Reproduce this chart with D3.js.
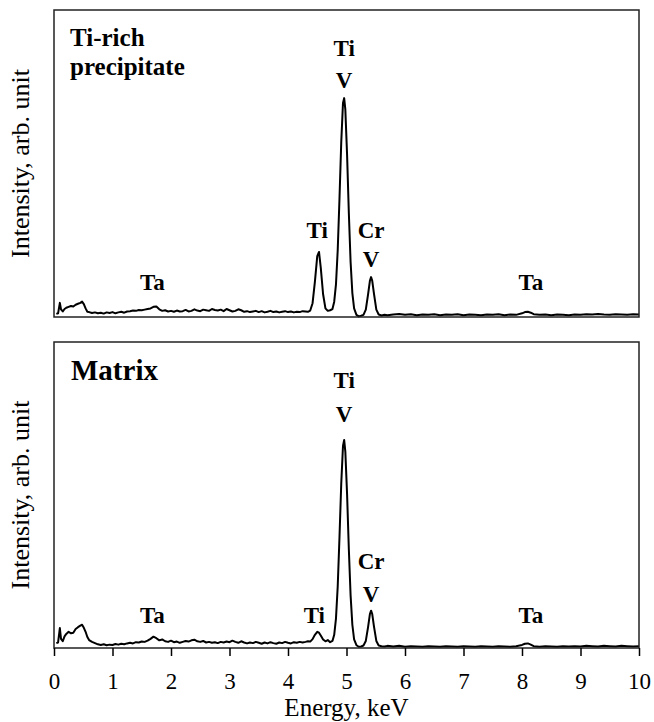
<!DOCTYPE html>
<html>
<head>
<meta charset="utf-8">
<script src="https://cdn.jsdelivr.net/npm/d3@7/dist/d3.min.js"></script>
<style>
  html, body { margin: 0; padding: 0; background: #fff; }
  svg { display: block; }
  text { font-family: "Liberation Serif", "Times New Roman", serif; fill: #000; }
</style>
</head>
<body>
<svg id="chart" width="654" height="722"></svg>
<script>
// Energy axis (keV)
const energy = [
  0.04, 0.07, 0.10, 0.12, 0.15, 0.18, 0.21, 0.25, 0.29, 0.33,
  0.37, 0.41, 0.45, 0.48, 0.51, 0.54, 0.57, 0.60, 0.65, 0.70,
  0.75, 0.80, 0.85, 0.90, 0.95, 1.00, 1.05, 1.10, 1.15, 1.20,
  1.25, 1.30, 1.35, 1.40, 1.45, 1.50, 1.55, 1.60, 1.65, 1.70,
  1.75, 1.80, 1.85, 1.90, 1.95, 2.00, 2.05, 2.10, 2.15, 2.20,
  2.25, 2.30, 2.35, 2.40, 2.45, 2.50, 2.55, 2.60, 2.65, 2.70,
  2.75, 2.80, 2.85, 2.90, 2.95, 3.00, 3.05, 3.10, 3.15, 3.20,
  3.25, 3.30, 3.35, 3.40, 3.45, 3.50, 3.55, 3.60, 3.65, 3.70,
  3.75, 3.80, 3.85, 3.90, 3.95, 4.00, 4.05, 4.10, 4.15, 4.20,
  4.25, 4.30, 4.34, 4.38, 4.42, 4.46, 4.50, 4.53, 4.56, 4.60,
  4.64, 4.68, 4.72, 4.76, 4.79, 4.82, 4.85, 4.88, 4.91, 4.94,
  4.96, 4.98, 5.01, 5.04, 5.07, 5.10, 5.13, 5.17, 5.21, 5.25,
  5.29, 5.33, 5.37, 5.40, 5.42, 5.44, 5.47, 5.51, 5.55, 5.60,
  5.65, 5.70, 5.80, 5.90, 6.00, 6.10, 6.20, 6.30, 6.40, 6.50,
  6.60, 6.70, 6.80, 6.90, 7.00, 7.10, 7.20, 7.30, 7.40, 7.50,
  7.60, 7.70, 7.80, 7.90, 8.00, 8.05, 8.10, 8.15, 8.20, 8.30,
  8.40, 8.50, 8.60, 8.70, 8.80, 8.90, 9.00, 9.10, 9.20, 9.30,
  9.40, 9.50, 9.60, 9.70, 9.80, 9.90, 10.00
];

// Intensity (arb. unit) - Ti-rich precipitate
const precipitate = [
  1.0, 1.2, 4.6, 2.5, 1.8, 2.6, 3.0, 3.3, 3.6, 3.4,
  4.0, 4.3, 4.6, 5.0, 4.2, 2.8, 1.7, 1.6, 1.3, 1.5,
  1.2, 1.4, 1.1, 1.5, 1.3, 1.6, 1.2, 1.5, 1.7, 1.4,
  1.8, 1.9, 2.1, 2.0, 2.3, 2.2, 2.4, 2.6, 2.8, 3.3,
  3.4, 2.5, 2.0, 2.2, 1.8, 2.0, 1.7, 2.1, 1.8, 1.9,
  2.3, 1.8, 2.0, 2.5, 2.1, 1.9, 2.4, 2.2, 2.0, 2.6,
  2.3, 2.1, 2.4, 1.9, 2.6, 2.2, 1.8, 2.0, 2.5, 2.2,
  1.7, 1.9, 1.6, 1.8, 2.0, 1.6, 1.9, 1.5, 1.7, 2.0,
  1.6, 1.8, 1.5, 1.7, 1.9, 1.6, 1.8, 1.5, 1.7, 1.6,
  1.9, 1.8, 1.7, 2.1, 4.5, 11.5, 19.8, 21.2, 16.1, 7.4,
  2.8, 2.0, 2.2, 2.6, 5.0, 10.6, 21.8, 38.5, 56.8, 69.7,
  71.3, 67.6, 52.8, 33.9, 17.9, 7.8, 2.8, 0.7, 0.2, 0.4,
  0.7, 2.4, 7.5, 11.8, 13.0, 11.8, 7.5, 2.4, 0.8, 0.5,
  0.7, 0.6, 0.8, 1.0, 0.7, 0.9, 0.6, 0.8, 0.7, 0.9,
  0.6, 0.8, 0.7, 0.9, 0.6, 0.8, 0.7, 0.6, 0.8, 0.7,
  0.9, 0.6, 0.8, 0.7, 1.2, 1.6, 1.7, 1.4, 0.9, 0.7,
  0.8, 0.6, 0.8, 0.7, 0.6, 0.8, 0.7, 0.9, 0.8, 1.0,
  0.8, 0.7, 0.9, 0.8, 0.7, 0.9, 0.8
];

// Intensity (arb. unit) - Matrix
const matrix = [
  1.6, 1.8, 6.5, 3.0, 2.2, 3.8, 4.6, 5.3, 4.8, 5.0,
  6.2, 6.8, 7.3, 7.6, 6.6, 5.3, 3.6, 2.6, 2.0, 1.6,
  1.2, 1.0, 1.2, 0.9, 1.1, 1.0, 1.3, 1.1, 1.4, 1.2,
  1.5, 1.7, 1.5, 1.9, 1.8, 2.1, 2.0, 2.4, 3.0, 3.7,
  3.2, 2.5, 2.8, 2.2, 2.0, 2.4, 1.9, 2.1, 1.7, 2.0,
  2.3, 2.1, 2.5, 2.7, 2.2, 2.0, 2.3, 1.8, 2.0, 1.7,
  1.9, 1.6, 2.0, 1.8, 2.1, 1.9, 2.4, 2.0, 1.7, 2.2,
  1.8, 1.5, 1.8, 1.6, 2.0, 1.7, 1.4, 1.8, 1.5, 1.9,
  1.6, 1.4, 1.8, 1.6, 2.0, 1.7, 1.5, 1.9, 1.7, 2.0,
  1.8, 2.0, 2.2, 2.1, 2.9, 4.3, 5.3, 5.0, 4.1, 2.8,
  2.2, 2.6, 1.9, 2.3, 4.3, 9.6, 20.2, 36.2, 53.6, 66.0,
  68.0, 64.2, 50.2, 32.3, 17.2, 7.6, 2.8, 0.9, 0.4, 0.5,
  0.8, 2.3, 7.0, 11.1, 12.2, 11.1, 7.0, 2.3, 0.8, 0.6,
  0.5, 0.7, 0.5, 0.7, 0.4, 0.6, 0.5, 0.4, 0.6, 0.5,
  0.4, 0.6, 0.5, 0.4, 0.6, 0.5, 0.4, 0.6, 0.5, 0.4,
  0.6, 0.5, 0.4, 0.6, 1.0, 1.4, 1.5, 1.1, 0.6, 0.4,
  0.6, 0.5, 0.4, 0.6, 0.5, 0.6, 0.5, 0.7, 0.6, 0.5,
  0.7, 0.6, 0.5, 0.7, 0.6, 0.5, 0.6
];

const xTicks = [0, 1, 2, 3, 4, 5, 6, 7, 8, 9, 10];

// Peak annotations
const precipLabels = [
  { e: 4.96, lines: ["Ti", "V"] },
  { e: 4.50, lines: ["Ti"] },
  { e: 5.42, lines: ["Cr", "V"] },
  { e: 1.68, lines: ["Ta"] },
  { e: 8.15, lines: ["Ta"] }
];
const matrixLabels = [
  { e: 4.96, lines: ["Ti", "V"] },
  { e: 4.45, lines: ["Ti"] },
  { e: 5.42, lines: ["Cr", "V"] },
  { e: 1.68, lines: ["Ta"] },
  { e: 8.15, lines: ["Ta"] }
];

const svg = d3.select("#chart");
const left = 54, right = 639;
const x = d3.scaleLinear().domain([0, 10]).range([left, right]);

const panels = [
  { top: 10, bottom: 317, values: precipitate, labels: precipLabels,
    labelY: { "Ti,V": [56, 88], "Ti": [238], "Cr,V": [238, 267], "Ta": [290] } },
  { top: 342, bottom: 648, values: matrix, labels: matrixLabels,
    labelY: { "Ti,V": [388, 422], "Ti": [623], "Cr,V": [569, 602], "Ta": [623] } }
];

panels.forEach((p, i) => {
  const y = d3.scaleLinear().domain([0, 100]).range([p.bottom, p.top]);
  const g = svg.append("g");

  const line = d3.line()
    .x((d, j) => x(energy[j]))
    .y(d => y(d));

  g.append("path")
    .datum(p.values)
    .attr("d", line)
    .attr("fill", "none")
    .attr("stroke", "#000")
    .attr("stroke-width", 2)
    .attr("stroke-linejoin", "round");

  g.append("rect")
    .attr("x", left).attr("y", p.top)
    .attr("width", right - left).attr("height", p.bottom - p.top)
    .attr("fill", "none").attr("stroke", "#222").attr("stroke-width", 1.5);

  p.labels.forEach(l => {
    const key = l.lines.join(",");
    const ys = p.labelY[key];
    l.lines.forEach((t, k) => {
      g.append("text")
        .attr("x", x(l.e)).attr("y", ys[k])
        .attr("text-anchor", "middle")
        .attr("font-weight", "bold")
        .attr("font-size", 23)
        .text(t);
    });
  });

  // y-axis title
  const cy = (p.top + p.bottom) / 2;
  svg.append("text")
    .attr("transform", `translate(29,${cy}) rotate(-90)`)
    .attr("text-anchor", "middle")
    .attr("font-size", 26)
    .text("Intensity, arb. unit");
});

// Panel titles
svg.append("text").attr("x", 70).attr("y", 46)
  .attr("font-weight", "bold").attr("font-size", 25).text("Ti-rich");
svg.append("text").attr("x", 70).attr("y", 75)
  .attr("font-weight", "bold").attr("font-size", 25).text("precipitate");
svg.append("text").attr("x", 71).attr("y", 380)
  .attr("font-weight", "bold").attr("font-size", 29).text("Matrix");

// X axis (bottom panel)
const axis = d3.axisBottom(x).tickValues(xTicks).tickSize(8).tickFormat(d3.format("d"));
const ax = svg.append("g").attr("transform", "translate(0,648)").call(axis);
ax.select(".domain").remove();
ax.selectAll(".tick line").attr("stroke", "#000").attr("stroke-width", 1.5);
ax.selectAll(".tick text")
  .attr("y", 41).attr("dy", null)
  .attr("font-size", 23)
  .attr("font-family", "'Liberation Serif', 'Times New Roman', serif")
  .attr("fill", "#000");

svg.append("text")
  .attr("x", (left + right) / 2).attr("y", 716)
  .attr("text-anchor", "middle")
  .attr("font-size", 25)
  .text("Energy, keV");
</script>
</body>
</html>
